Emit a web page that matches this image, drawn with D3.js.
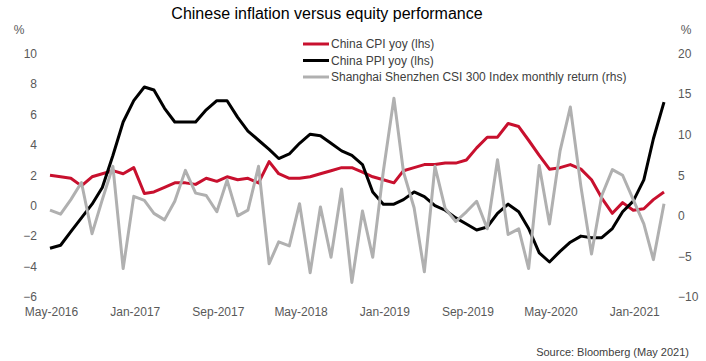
<!DOCTYPE html>
<html>
<head>
<meta charset="utf-8">
<script src="https://cdn.jsdelivr.net/npm/d3@7"></script>
<style>
  body { margin: 0; background: #fff; }
  text { font-family: "Liberation Sans", Arial, sans-serif; }
</style>
</head>
<body>
<div id="chart"></div>
<script>
// monthly data, May-2016 .. Apr-2021
const startMonth = new Date(2016, 4, 1);

const cpi = [2.0, 1.9, 1.8, 1.3, 1.9, 2.1, 2.3, 2.1,
    2.5, 0.8, 0.9, 1.2, 1.5, 1.5, 1.4, 1.8, 1.6, 1.9, 1.7, 1.8,
    1.5, 2.9, 2.1, 1.8, 1.8, 1.9, 2.1, 2.3, 2.5, 2.5, 2.2, 1.9,
    1.7, 1.5, 2.3, 2.5, 2.7, 2.7, 2.8, 2.8, 3.0, 3.8, 4.5, 4.5,
    5.4, 5.2, 4.3, 3.3, 2.4, 2.5, 2.7, 2.4, 1.7, 0.5, -0.5, 0.2,
    -0.3, -0.2, 0.4, 0.9];

const ppi = [-2.8, -2.6, -1.7, -0.8, 0.1, 1.2, 3.3, 5.5,
    6.9, 7.8, 7.6, 6.4, 5.5, 5.5, 5.5, 6.3, 6.9, 6.9, 5.8, 4.9,
    4.3, 3.7, 3.1, 3.4, 4.1, 4.7, 4.6, 4.1, 3.6, 3.3, 2.7, 0.9,
    0.1, 0.1, 0.4, 0.9, 0.6, 0.0, -0.3, -0.8, -1.2, -1.6, -1.4, -0.5,
    0.1, -0.4, -1.5, -3.1, -3.7, -3.0, -2.4, -2.0, -2.1, -2.1, -1.5, -0.4,
    0.3, 1.7, 4.4, 6.8];

const csi300 = [0.7, 0.2, 2.0, 4.1, -2.2, 2.0, 6.1, -6.5,
    2.4, 1.9, 0.3, -0.5, 1.8, 5.6, 2.8, 2.5, 0.5, 4.4, 0.0, 0.7,
    6.1, -5.9, -3.2, -3.7, 1.5, -7.0, 1.1, -5.1, 3.3, -8.2, 0.6, -5.1,
    5.5, 14.5, 5.4, 1.0, -6.9, 6.1, 0.9, -0.7, 0.5, 1.8, -1.6, 6.9,
    -2.3, -1.6, -6.5, 6.2, -1.0, 8.0, 13.4, 3.6, -4.7, 2.5, 5.7, 5.0,
    2.0, -1.0, -5.4, 1.5];

const leftTicks = [-6, -4, -2, 0, 2, 4, 6, 8, 10];
const rightTicks = [-10, -5, 0, 5, 10, 15, 20];
const xTickLabels = ["May-2016", "Jan-2017", "Sep-2017", "May-2018", "Jan-2019", "Sep-2019", "May-2020", "Jan-2021"];

const seriesInfo = [
    {name: "China CPI yoy (lhs)", values: cpi, color: "#c8102e", axis: "left"},
    {name: "China PPI yoy (lhs)", values: ppi, color: "#000000", axis: "left"},
    {name: "Shanghai Shenzhen CSI 300 Index monthly return (rhs)", values: csi300, color: "#b0b0b0", axis: "right"}
];

const width = 706, height = 361;
const months = d3.timeMonth.range(startMonth, d3.timeMonth.offset(startMonth, cpi.length));

const svg = d3.select("#chart").append("svg")
    .attr("width", width)
    .attr("height", height);

const x = d3.scaleTime()
    .domain([months[0], months[months.length - 1]])
    .range([50, 664]);
const yLeft = d3.scaleLinear().domain([-6, 10]).range([297, 53.5]);
const yRight = d3.scaleLinear().domain([-10, 20]).range([297, 53.5]);

// title
svg.append("text")
    .attr("x", 327).attr("y", 19)
    .attr("text-anchor", "middle")
    .style("font-size", "16px")
    .attr("fill", "#000")
    .text("Chinese inflation versus equity performance");

// axes (labels only)
const axisColor = "#595959";
const leftAxis = d3.axisLeft(yLeft).tickValues(leftTicks).tickSize(0).tickPadding(0);
const gl = svg.append("g").attr("transform", "translate(37,0)").call(leftAxis);
const rightAxis = d3.axisRight(yRight).tickValues(rightTicks).tickSize(0).tickPadding(0);
const gr = svg.append("g").attr("transform", "translate(678,0)").call(rightAxis);
const xAxis = d3.axisBottom(x)
    .tickValues(xTickLabels.map((d, i) => months[i * 8]))
    .tickFormat((d, i) => xTickLabels[i])
    .tickSize(0).tickPadding(0);
const gx = svg.append("g").attr("transform", "translate(1,307)").call(xAxis);

[gl, gr, gx].forEach(g => {
    g.select(".domain").remove();
    g.selectAll("text")
        .attr("fill", axisColor)
        .style("font-size", "12px")
        .style("font-family", "'Liberation Sans', Arial, sans-serif");
});

svg.append("text").attr("x", 19).attr("y", 34).attr("text-anchor", "middle")
    .attr("fill", axisColor).style("font-size", "12px").text("%");
svg.append("text").attr("x", 686).attr("y", 34).attr("text-anchor", "middle")
    .attr("fill", axisColor).style("font-size", "12px").text("%");

// lines
for (let s of seriesInfo) {
    const yScale = s.axis == "left" ? yLeft : yRight;
    const line = d3.line()
        .x((d, i) => x(months[i]))
        .y(d => yScale(d));
    svg.append("path")
        .datum(s.values)
        .attr("fill", "none")
        .attr("stroke", s.color)
        .attr("stroke-width", 3)
        .attr("stroke-linejoin", "round")
        .attr("d", line);
}

// legend
const legend = svg.append("g").attr("transform", "translate(303,44)");
seriesInfo.forEach((s, i) => {
    const row = legend.append("g").attr("transform", "translate(0," + (i * 16.5) + ")");
    row.append("line")
        .attr("x1", 0).attr("x2", 26)
        .attr("stroke", s.color)
        .attr("stroke-width", 3);
    row.append("text")
        .attr("x", 28).attr("dy", "0.35em")
        .attr("fill", "#404040")
        .style("font-size", "12px")
        .text(s.name);
});

// source
svg.append("text")
    .attr("x", 689).attr("y", 356)
    .attr("text-anchor", "end")
    .attr("fill", "#404040")
    .style("font-size", "11px")
    .text("Source: Bloomberg (May 2021)");
</script>
</body>
</html>
